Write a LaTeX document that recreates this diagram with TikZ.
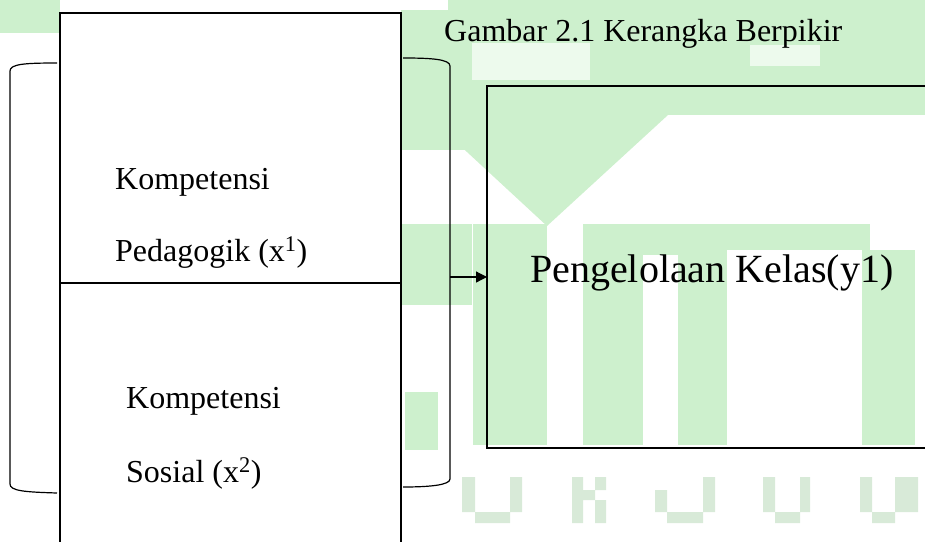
\documentclass[tikz,border=0pt]{standalone}
\usepackage{fontspec}
\setmainfont{Liberation Serif}
\usetikzlibrary{arrows.meta}
\definecolor{wm}{RGB}{205,240,205}
\definecolor{wmg}{RGB}{216,234,216}
\begin{document}
\begin{tikzpicture}[x=1pt,y=-1pt,
  box/.style={draw=black,line width=2pt,fill=white,inner sep=0pt,outer sep=0pt,anchor=north west},
  lbl/.style={inner sep=0pt,anchor=base west,font=\fontsize{32}{38}\selectfont},
  big/.style={inner sep=0pt,anchor=base west,font=\fontsize{40}{48}\selectfont},
  brk/.style={draw=black,line width=1.2pt},
  conn/.style={draw=black,line width=1.2pt,-{Triangle[length=11pt,width=11pt]}},
  wmark/.style={fill=wm,draw=none},
  wmsoft/.style={fill=wm!35!white,draw=none},
  wmfaint/.style={fill=wmg,draw=none}]
\useasboundingbox (0,0) rectangle (925,541);
\clip (0,0) rectangle (925,541);
% background watermark (approximate)
\fill[wmark] (0,0) rectangle (60,33);
\fill[wmark] (401,0) rectangle (925,115);
\fill[white] (380,0) rectangle (448,10);
\fill[wmsoft] (472,43) rectangle (590,80);
\fill[wmsoft] (750,45) rectangle (820,66);
\fill[wmark] (427,115) -- (668,115) -- (547,226) -- cycle;
\fill[wmark] (401,115) rectangle (470,150);
\fill[wmark] (401,224) rectangle (472,305);
\fill[wmark] (473,224) rectangle (547,445);
\fill[wmark] (583,224) rectangle (727,255);
\fill[wmark] (583,255) rectangle (643,445);
\fill[wmark] (678,255) rectangle (727,445);
\fill[wmark] (727,224) rectangle (870,250);
\fill[wmark] (862,250) rectangle (915,445);
\fill[wmark] (405,392) rectangle (438,450);
% faint letters at the bottom
\fill[wmfaint] (462,477) rectangle (475,512) (510,477) rectangle (522,512) (475,512) rectangle (510,523);
\fill[wmfaint] (572,477) rectangle (583,523) (583,490) rectangle (595,500) (595,477) rectangle (606,490) (595,500) rectangle (606,523);
\fill[wmfaint] (655,490) rectangle (667,512) (703,477) rectangle (715,512) (667,512) rectangle (703,523);
\fill[wmfaint] (763,477) rectangle (775,512) (800,477) rectangle (810,512) (775,512) rectangle (800,523);
\fill[wmfaint] (860,477) rectangle (872,512) (895,477) rectangle (918,512) (872,512) rectangle (895,523);
% boxes
\node[box, minimum width=341pt, minimum height=270pt] (ka) at (60,13) {};
\node[box, minimum width=341pt, minimum height=290pt] (kb) at (60,283) {};
\node[box, fill=none, minimum width=470pt, minimum height=362pt] (pk) at (487,86) {};
% texts
\node[lbl] (title) at (444,41) {Gambar 2.1 Kerangka Berpikir};
\node[lbl] (t1) at (115,189) {Kompetensi};
\node[lbl] (t2) at (115,261) {Pedagogik (x\textsuperscript{1})};
\node[lbl] (t3) at (126,408) {Kompetensi};
\node[lbl] (t4) at (126,482) {Sosial (x\textsuperscript{2})};
\node[big] (t5) at (530,282) {Pengelolaan Kelas(y1)};
% brackets
\draw[brk] (57,63) .. controls (25,63) and (10,64) .. (10,71) -- (10,484) .. controls (10,491) and (25,492) .. (57,493);
\draw[brk] (403,58) .. controls (430,58) and (450,59) .. (450,66) -- (450,479) .. controls (450,485) and (430,487) .. (403,487);
% connector
\coordinate (bk) at (450,277);
\draw[conn] (bk) -- (bk -| pk.west);
\end{tikzpicture}
\end{document}
